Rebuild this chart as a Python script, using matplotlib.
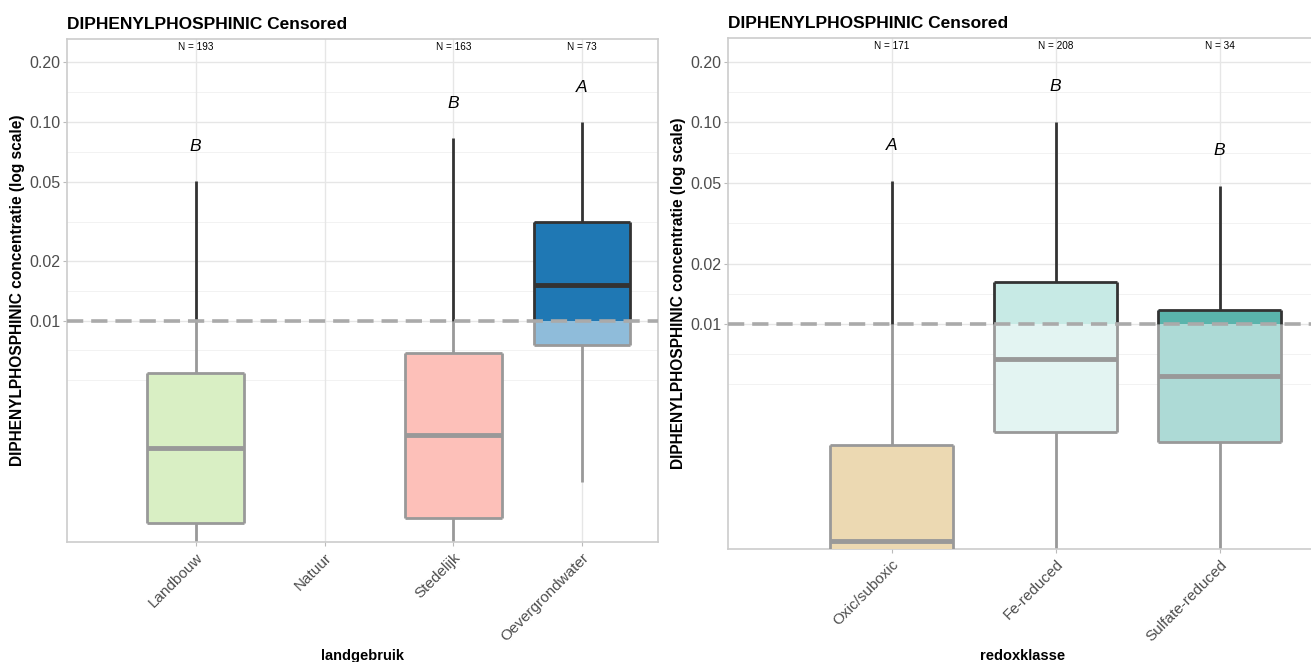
import matplotlib
matplotlib.use("Agg")
import matplotlib.pyplot as plt
from matplotlib.colors import to_rgb

plt.rcParams['font.family'] = ['Liberation Sans', 'DejaVu Sans']

# detection limit
LIMIT = 0.01

# --- landgebruik panel ---
land_cats = ["Landbouw", "Natuur", "Stedelijk", "Oevergrondwater"]
land_n = [193, None, 163, 73]
land_letters = ["B", None, "B", "A"]
land_colors = ["#b2df8a", None, "#fb8072", "#1f78b4"]
land_wlo = [0.0005, None, 0.0005, 0.00155]
land_q1 = [0.000955, None, 0.00102, 0.00757]
land_med = [0.0023, None, 0.00267, 0.0152]
land_q3 = [0.00548, None, 0.0069, 0.0314]
land_whi = [0.0505, None, 0.0831, 0.100]

# --- redoxklasse panel ---
redox_cats = ["Oxic/suboxic", "Fe-reduced", "Sulfate-reduced"]
redox_n = [171, 208, 34]
redox_letters = ["A", "B", "B"]
redox_colors = ["#d8b365", "#c7eae5", "#5ab4ac"]
redox_wlo = [0.0005, 0.0005, 0.0005]
redox_q1 = [0.0005, 0.00294, 0.00262]
redox_med = [0.00084, 0.0067, 0.00557]
redox_q3 = [0.00253, 0.0162, 0.0117]
redox_whi = [0.0514, 0.100, 0.0486]

DARK = "#333333"
GREY = "#999999"


def lighten(c, a=0.5):
    r, g, b = to_rgb(c)
    return (1 - a * (1 - r), 1 - a * (1 - g), 1 - a * (1 - b))


def draw_box(ax, x, wlo, q1, med, q3, whi, color, w=0.75):
    lw = 2.0
    # whiskers
    ax.vlines(x, wlo, min(q1, LIMIT) if q1 < LIMIT else q1, color=GREY, lw=lw, zorder=2)
    ax.vlines(x, q3, min(whi, LIMIT) if q3 < LIMIT else q3, color=GREY, lw=lw, zorder=2)
    if whi > LIMIT:
        ax.vlines(x, max(q3, LIMIT), whi, color=DARK, lw=lw, zorder=2)
    # lower (censored) part
    top_low = min(q3, LIMIT)
    if q1 < LIMIT:
        ax.bar(x, top_low - q1, bottom=q1, width=w, color=lighten(color),
               edgecolor="none", zorder=3)
        ax.vlines([x - w / 2, x + w / 2], q1, top_low, color=GREY, lw=lw, zorder=4)
        ax.hlines(q1, x - w / 2, x + w / 2, color=GREY, lw=lw, zorder=4)
        if q3 < LIMIT:
            ax.hlines(q3, x - w / 2, x + w / 2, color=GREY, lw=lw, zorder=4)
    # upper part
    if q3 > LIMIT:
        bot = max(q1, LIMIT)
        ax.bar(x, q3 - bot, bottom=bot, width=w, color=color,
               edgecolor="none", zorder=3)
        ax.vlines([x - w / 2, x + w / 2], bot, q3, color=DARK, lw=lw, zorder=4)
        ax.hlines(q3, x - w / 2, x + w / 2, color=DARK, lw=lw, zorder=4)
    # median
    ax.hlines(med, x - w / 2, x + w / 2, color=DARK if med > LIMIT else GREY,
              lw=3.5, zorder=5)


def panel(ax, cats, ns, letters, colors, wlo, q1, med, q3, whi, xlabel, xmax):
    xs = list(range(1, len(cats) + 1))
    ax.set_yscale("log")
    ax.set_ylim(0.00077, 0.262)
    ax.set_xlim(0, xmax)
    major = [0.01, 0.02, 0.05, 0.10, 0.20]
    minor = [0.00506, 0.00715, 0.01414, 0.0316, 0.0707, 0.1414]
    for v in major:
        ax.axhline(v, color="#e6e6e6", lw=1.0, zorder=0)
    for v in minor:
        ax.axhline(v, color="#f2f2f2", lw=0.7, zorder=0)
    for x in xs:
        ax.axvline(x, color="#e6e6e6", lw=1.0, zorder=0)
    for i, x in enumerate(xs):
        if colors[i] is None:
            continue
        draw_box(ax, x, wlo[i], q1[i], med[i], q3[i], whi[i], colors[i])
        ax.text(x, whi[i] * 1.5, letters[i], ha="center", va="center",
                fontsize=12.5, style="italic", color="black", zorder=6)
        ax.text(x, 0.24, "N = %d" % ns[i], ha="center", va="center",
                fontsize=7.2, color="black", zorder=6)
    ax.axhline(LIMIT, color="#aaaaaa", lw=2.6, ls=(0, (4.5, 2.2)), zorder=7)
    ax.set_yticks(major)
    ax.set_yticklabels(["0.01", "0.02", "0.05", "0.10", "0.20"])
    ax.minorticks_off()
    ax.set_xticks(xs)
    ax.set_xticklabels(cats, rotation=45, ha="right", rotation_mode="anchor")
    ax.tick_params(axis="y", labelsize=11.5, colors="#4d4d4d", length=3,
                   width=0.8, pad=2)
    ax.tick_params(axis="x", labelsize=11, colors="#4d4d4d", length=3,
                   width=0.8, pad=3)
    ax.tick_params(axis="both", color="#bbbbbb")
    for s in ax.spines.values():
        s.set_color("#cccccc")
        s.set_linewidth(1.2)
    ax.set_ylabel("DIPHENYLPHOSPHINIC concentratie (log scale)",
                  fontsize=11.2, fontweight="bold", labelpad=3)
    ax.set_xlabel(xlabel, fontsize=10.5, fontweight="bold", labelpad=4)
    ax.set_title("DIPHENYLPHOSPHINIC Censored", loc="left", fontsize=12.5,
                 fontweight="bold", pad=7)


fig = plt.figure(figsize=(13.11, 6.62), dpi=100)
W, H = 1311, 662
ax1 = fig.add_axes([67 / W, (H - 542) / H, (658 - 67) / W, (542 - 39) / H])
ax2 = fig.add_axes([728 / W, (H - 549) / H, (1318 - 728) / W, (549 - 38) / H])

panel(ax1, land_cats, land_n, land_letters, land_colors, land_wlo, land_q1,
      land_med, land_q3, land_whi, "landgebruik", 4.59)
panel(ax2, redox_cats, redox_n, redox_letters, redox_colors, redox_wlo,
      redox_q1, redox_med, redox_q3, redox_whi, "redoxklasse", 3.6)

fig.savefig("out.png", dpi=100)
